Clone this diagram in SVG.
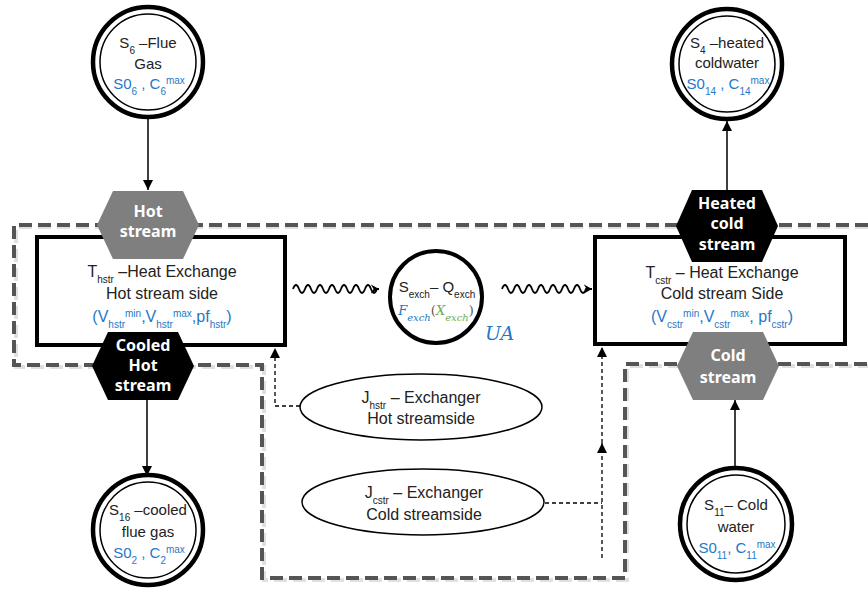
<svg xmlns="http://www.w3.org/2000/svg" width="868" height="590" viewBox="0 0 868 590">
<style>
  .t{font-family:"Liberation Sans","DejaVu Sans",sans-serif;font-size:15px;fill:#222;text-anchor:middle}
  .l{font-size:16px}
  .b{fill:#1f78c8}
  .hx{font-family:"Noto Sans","DejaVu Sans",sans-serif;font-size:16px;font-weight:bold;fill:#fff;text-anchor:middle}
  .s{font-size:10px}
  .box{fill:#fff;stroke:#000;stroke-width:4}
  .c1{fill:#fff;stroke:#000;stroke-width:4.5}
  .c2{fill:none;stroke:#000;stroke-width:1.5}
  .arr{fill:none;stroke:#000;stroke-width:1.5}
  .dsh{fill:none;stroke:#000;stroke-width:1.3;stroke-dasharray:4 3}
  .wave{fill:none;stroke:#000;stroke-width:1.8}
  .bnd{fill:none;stroke:#555;stroke-width:4;stroke-dasharray:13 6}
  .bnds{fill:none;stroke:#ccc;stroke-width:4;stroke-dasharray:13 6;opacity:0.6}
  .ell{fill:#fff;stroke:#000;stroke-width:1.5}
  .m{font-family:"DejaVu Serif","Liberation Serif",serif;font-style:italic}
</style>
<defs>
  <marker id="ah" viewBox="0 0 10 10" refX="10" refY="5" markerWidth="10" markerHeight="10" markerUnits="userSpaceOnUse" orient="auto">
    <path d="M0,0 L10,5 L0,10 Z" fill="#000"/>
  </marker>
  <marker id="ch" viewBox="0 0 10 10" refX="9" refY="5" markerWidth="9" markerHeight="10" markerUnits="userSpaceOnUse" orient="auto">
    <path d="M0,0 L9,5 L0,10 L3,5 Z" fill="#000"/>
  </marker>
  <polygon id="hex" points="-51,0 -35,-34 35,-34 51,0 35,34 -35,34"/>
</defs>

<!-- boundary -->
<g id="boundary">
  <path class="bnds" d="M868,227 H16 V367 H264 V580 H627 V366 H868"/>
  <path class="bnd" d="M868,225 H14 V365 H262 V578 H625 V364 H868"/>
</g>

<!-- connectors -->
<g id="connectors">
  <line class="arr" x1="148" y1="118" x2="148" y2="190" marker-end="url(#ah)"/>
  <line class="arr" x1="727" y1="192" x2="727" y2="121" marker-end="url(#ah)"/>
  <line class="arr" x1="147" y1="398" x2="147" y2="476" marker-end="url(#ah)"/>
  <line class="arr" x1="735" y1="466" x2="735" y2="400" marker-end="url(#ah)"/>
  <path class="wave" marker-end="url(#ch)" d="M293,289 q3,-8 6,0 t6,0 t6,0 t6,0 t6,0 t6,0 t6,0 t6,0 t6,0 t6,0 t6,0 t6,0 t6,0 t6,0 l2,0"/>
  <path class="wave" marker-end="url(#ch)" d="M502,289 q3,-8 6,0 t6,0 t6,0 t6,0 t6,0 t6,0 t6,0 t6,0 t6,0 t6,0 t6,0 t6,0 t6,0 t6,0 l6,0"/>
  <path class="dsh" d="M300,406 H275 V348" marker-end="url(#ah)"/>
  <path class="dsh" d="M545,503 H602"/>
  <path class="dsh" d="M602,558 V443" marker-end="url(#ah)"/>
  <path class="dsh" d="M602,443 V347" marker-end="url(#ah)"/>
</g>

<!-- heat exchange hot side -->
<g id="hot-side">
  <rect class="box" x="37" y="237" width="248" height="108"/>
  <text class="t l" x="162" y="277">T<tspan class="s" baseline-shift="sub">hstr</tspan> –Heat Exchange</text>
  <text class="t l" x="162" y="299">Hot stream side</text>
  <text class="t l b" x="162" y="322">(V<tspan class="s" baseline-shift="sub">hstr</tspan><tspan class="s" baseline-shift="super">min</tspan>,V<tspan class="s" baseline-shift="sub">hstr</tspan><tspan class="s" baseline-shift="super">max</tspan>,pf<tspan class="s" baseline-shift="sub">hstr</tspan>)</text>
</g>

<!-- heat exchange cold side -->
<g id="cold-side">
  <rect class="box" x="595" y="237" width="250" height="107"/>
  <text class="t l" x="722" y="278">T<tspan class="s" baseline-shift="sub">cstr</tspan> – Heat Exchange</text>
  <text class="t l" x="722" y="299">Cold stream Side</text>
  <text class="t l b" x="722" y="322">(V<tspan class="s" baseline-shift="sub">cstr</tspan><tspan class="s" baseline-shift="super">min</tspan>,V<tspan class="s" baseline-shift="sub">cstr</tspan><tspan class="s" baseline-shift="super">max</tspan>, pf<tspan class="s" baseline-shift="sub">cstr</tspan>)</text>
</g>

<!-- hexagons -->
<g id="hot-stream">
  <use href="#hex" transform="translate(148,225)" fill="#7f7f7f"/>
  <text class="hx" x="148" y="217">Hot</text>
  <text class="hx" x="148" y="237">stream</text>
</g>
<g id="cooled-hot-stream">
  <use href="#hex" transform="translate(143,366)" fill="#000"/>
  <text class="hx" x="143" y="351">Cooled</text>
  <text class="hx" x="143" y="371">Hot</text>
  <text class="hx" x="143" y="391">stream</text>
</g>
<g id="heated-cold-stream">
  <use href="#hex" transform="translate(727,226) scale(1,1.06)" fill="#000"/>
  <text class="hx" x="727" y="209">Heated</text>
  <text class="hx" x="727" y="229">cold</text>
  <text class="hx" x="727" y="250">stream</text>
</g>
<g id="cold-stream">
  <use href="#hex" transform="translate(728,366)" fill="#7f7f7f"/>
  <text class="hx" x="728" y="361">Cold</text>
  <text class="hx" x="728" y="383">stream</text>
</g>

<!-- exchanger circle -->
<g id="exchanger">
  <circle cx="436" cy="297" r="46" fill="#fff" stroke="#000" stroke-width="4"/>
  <text class="t" x="437" y="292">S<tspan class="s" baseline-shift="sub">exch</tspan>– Q<tspan class="s" baseline-shift="sub">exch</tspan></text>
  <text class="t m" x="436" y="315" style="font-size:13px"><tspan fill="#1f78c8">F<tspan class="s" baseline-shift="sub">exch</tspan></tspan><tspan fill="#555" style="font-style:normal">(</tspan><tspan fill="#70ad47">X<tspan class="s" baseline-shift="sub">exch</tspan></tspan><tspan fill="#555" style="font-style:normal">)</tspan></text>
  <text class="m" x="485" y="340" style="font-size:19px;fill:#1f78c8">UA</text>
</g>

<!-- stream circles -->
<g id="s6">
  <circle class="c1" cx="148" cy="62" r="55"/>
  <circle class="c2" cx="148" cy="62" r="48"/>
  <text class="t" x="148" y="48">S<tspan class="s" baseline-shift="sub">6</tspan> –Flue</text>
  <text class="t" x="148" y="69">Gas</text>
  <text class="t b" x="149" y="89">S0<tspan class="s" baseline-shift="sub">6</tspan> , C<tspan class="s" baseline-shift="sub">6</tspan><tspan class="s" baseline-shift="super">max</tspan></text>
</g>
<g id="s4">
  <circle class="c1" cx="727" cy="64" r="55"/>
  <circle class="c2" cx="727" cy="64" r="48"/>
  <text class="t" x="727" y="48">S<tspan class="s" baseline-shift="sub">4</tspan> –heated</text>
  <text class="t" x="727" y="68">coldwater</text>
  <text class="t b" x="728" y="89">S0<tspan class="s" baseline-shift="sub">14</tspan> , C<tspan class="s" baseline-shift="sub">14</tspan><tspan class="s" baseline-shift="super">max</tspan></text>
</g>
<g id="s16">
  <circle class="c1" cx="148" cy="530" r="55"/>
  <circle class="c2" cx="148" cy="530" r="48"/>
  <text class="t" x="148" y="515">S<tspan class="s" baseline-shift="sub">16</tspan> –cooled</text>
  <text class="t" x="148" y="537">flue gas</text>
  <text class="t b" x="149" y="558">S0<tspan class="s" baseline-shift="sub">2</tspan> , C<tspan class="s" baseline-shift="sub">2</tspan><tspan class="s" baseline-shift="super">max</tspan></text>
</g>
<g id="s11">
  <circle class="c1" cx="736" cy="524" r="56"/>
  <circle class="c2" cx="736" cy="524" r="49"/>
  <text class="t" x="736" y="510">S<tspan class="s" baseline-shift="sub">11</tspan>– Cold</text>
  <text class="t" x="736" y="532">water</text>
  <text class="t b" x="737" y="553">S0<tspan class="s" baseline-shift="sub">11</tspan>, C<tspan class="s" baseline-shift="sub">11</tspan><tspan class="s" baseline-shift="super">max</tspan></text>
</g>

<!-- ellipses -->
<g id="j-hstr">
  <ellipse class="ell" cx="421" cy="407" rx="121" ry="33"/>
  <text class="t l" x="421" y="403">J<tspan class="s" baseline-shift="sub">hstr</tspan> – Exchanger</text>
  <text class="t l" x="421" y="424">Hot streamside</text>
</g>
<g id="j-cstr">
  <ellipse class="ell" cx="423" cy="502" rx="121" ry="33"/>
  <text class="t l" x="424" y="498">J<tspan class="s" baseline-shift="sub">cstr</tspan> – Exchanger</text>
  <text class="t l" x="424" y="520">Cold streamside</text>
</g>
</svg>
